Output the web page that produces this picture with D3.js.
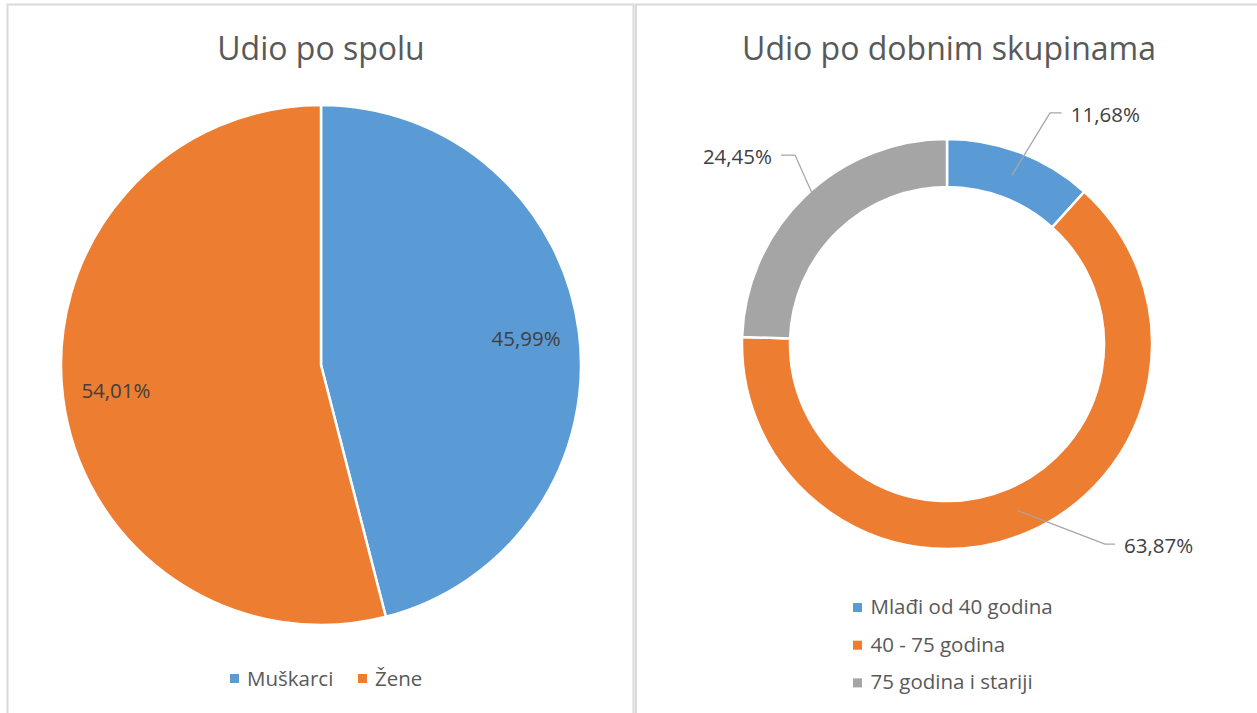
<!DOCTYPE html>
<html><head><meta charset="utf-8">
<script src="https://cdn.jsdelivr.net/npm/d3@7"></script>
<style>
html,body{margin:0;padding:0;background:#fff;}
svg{display:block;}
text{font-family:"Open Sans",sans-serif;}
</style></head>
<body><svg id="c" width="1257" height="713"></svg>
<script>
// ---- data ----
const genderCategories = ["Muškarci", "Žene"];
const genderValues = [45.99, 54.01];
const ageCategories = ["Mlađi od 40 godina", "40 - 75 godina", "75 godina i stariji"];
const ageValues = [11.68, 63.87, 24.45];
const titles = ["Udio po spolu", "Udio po dobnim skupinama"];

const colors = ["#5b9bd5", "#ed7d31", "#a5a5a5"];
const fmt = v => d3.format(".2f")(v).replace(".", ",") + "%";

const svg = d3.select("#c");
// frames
svg.append("rect").attr("x",7.5).attr("y",4.5).attr("width",626).attr("height",760)
  .attr("fill","none").attr("stroke","#d9d9d9").attr("stroke-width",2);
svg.append("rect").attr("x",636).attr("y",4.5).attr("width",640).attr("height",760)
  .attr("fill","none").attr("stroke","#d9d9d9").attr("stroke-width",2);

// ---- pie 1 ----
const pie = d3.pie().sort(null).value(d => d);
const g1 = svg.append("g").attr("transform","translate(321,365)");
const R1 = 260;
const arc1 = d3.arc().innerRadius(0).outerRadius(R1);
const arcs1 = pie(genderValues);
g1.selectAll("path").data(arcs1).enter().append("path")
  .attr("d", arc1).attr("fill",(d,i)=>colors[i])
  .attr("stroke","#fff").attr("stroke-width",2.5).attr("stroke-linejoin","round");
const lab1 = d3.arc().innerRadius(R1*0.795).outerRadius(R1*0.795);
g1.selectAll("text.lbl").data(arcs1).enter().append("text")
  .attr("class","lbl")
  .attr("transform", d => `translate(${lab1.centroid(d)})`)
  .attr("text-anchor","middle").attr("dy","0.35em")
  .attr("font-size",20.5).attr("fill","#404040")
  .text(d => fmt(d.data));

svg.append("text").attr("x",321).attr("y",60).attr("text-anchor","middle")
  .attr("font-size",32).attr("fill","#595959").text(titles[0]);

// legend 1
const leg1 = svg.append("g");
const legX1 = [230, 358];
genderCategories.forEach((c,i)=>{
  leg1.append("rect").attr("x",legX1[i]).attr("y",674).attr("width",9).attr("height",9).attr("fill",colors[i]);
  leg1.append("text").attr("x",legX1[i]+17).attr("y",686).attr("font-size",20.5).attr("fill","#595959").text(c);
});

// ---- donut ----
const cx2 = 947, cy2 = 344, R2 = 205, r2 = 157;
const g2 = svg.append("g").attr("transform",`translate(${cx2},${cy2})`);
const arc2 = d3.arc().innerRadius(r2).outerRadius(R2);
const arcs2 = pie(ageValues);
g2.selectAll("path").data(arcs2).enter().append("path")
  .attr("d", arc2).attr("fill",(d,i)=>colors[i])
  .attr("stroke","#fff").attr("stroke-width",2.5).attr("stroke-linejoin","round");

// leader lines: start at ring centroid, elbow at radius / angle offset
const elbow = [{r:253, da:3, h:11.7}, {r:255, da:-15.3, h:10}, {r:242.5, da:5.2, h:14}];
const side = [1, 1, -1];
arcs2.forEach((d,i)=>{
  const [sx,sy] = arc2.centroid(d);
  const mid = (d.startAngle+d.endAngle)/2 + elbow[i].da*Math.PI/180;
  const ex = elbow[i].r*Math.sin(mid), ey = -elbow[i].r*Math.cos(mid);
  const hx = ex + side[i]*elbow[i].h;
  g2.append("path").attr("d", d3.line()([[sx,sy],[ex,ey],[hx,ey]]))
    .attr("fill","none").attr("stroke","#a6a6a6").attr("stroke-width",1.3);
  g2.append("text").attr("x", hx + side[i]*9).attr("y", ey + 2).attr("dy","0.35em")
    .attr("text-anchor", side[i]>0 ? "start" : "end")
    .attr("font-size",20.5).attr("fill","#404040").text(fmt(d.data));
});

svg.append("text").attr("x",949).attr("y",60).attr("text-anchor","middle")
  .attr("font-size",32).attr("fill","#595959").text(titles[1]);

// legend 2
const leg2 = svg.append("g");
ageCategories.forEach((c,i)=>{
  const y = 603 + i*37.7;
  leg2.append("rect").attr("x",853).attr("y",y).attr("width",9).attr("height",9).attr("fill",colors[i]);
  leg2.append("text").attr("x",870.5).attr("y",y+11).attr("font-size",20.5).attr("fill","#595959").text(c);
});
</script></body></html>
